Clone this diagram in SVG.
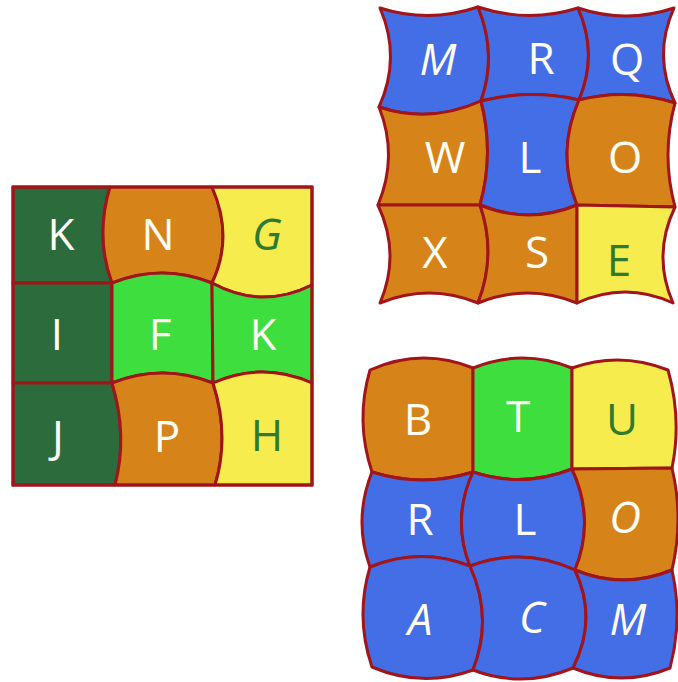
<svg xmlns="http://www.w3.org/2000/svg" width="678" height="682" viewBox="0 0 678 682">
<style>
.t{stroke:#A0141A;stroke-width:3;stroke-linejoin:round}
.dg{fill:#2C6B3C}.or{fill:#D6841A}.ye{fill:#F6EC4E}.gr{fill:#3DDE3D}.bl{fill:#436EE6}
text{font-family:"Open Sans","DejaVu Sans",sans-serif;font-size:44px;text-anchor:middle}
.w{fill:#FFFDF4}.k{fill:#2F7A2F}
</style>
<rect width="678" height="682" fill="#FFFFFF"/>
<g id="grid-left">
<g id="tile-K1"><path class="t dg" d="M13,187 L110,187 Q95,237 112,283 L13,283 Z"/><text class="w" x="61" y="250">K</text></g>
<g id="tile-N"><path class="t or" d="M110,187 L212,187 Q234,237 212,283 Q162,263 112,283 Q95,237 110,187 Z"/><text class="w" x="158" y="250">N</text></g>
<g id="tile-G"><path class="t ye" d="M212,187 L312,187 L312,285 Q262,310 212,283 Q234,237 212,187 Z"/><text class="k" x="267" y="250" font-style="italic">G</text></g>
<g id="tile-I"><path class="t dg" d="M13,283 L112,283 L112,383 L13,383 Z"/><text class="w" x="57" y="350">I</text></g>
<g id="tile-F"><path class="t gr" d="M112,283 Q162,263 212,283 L213,383 Q162,363 112,383 Z"/><text class="w" x="160" y="350">F</text></g>
<g id="tile-K2"><path class="t gr" d="M212,283 Q262,310 312,285 L312,383 Q262,361 213,383 Z"/><text class="w" x="263" y="350">K</text></g>
<g id="tile-J"><path class="t dg" d="M13,383 L112,383 Q128,436 115,485 L13,485 Z"/><text class="w" x="58" y="452">J</text></g>
<g id="tile-P"><path class="t or" d="M112,383 Q162,363 213,383 Q230,436 215,485 L115,485 Q128,436 112,383 Z"/><text class="w" x="167" y="452">P</text></g>
<g id="tile-H"><path class="t ye" d="M213,383 Q262,361 312,383 L312,485 L215,485 Q230,436 213,383 Z"/><text class="k" x="267" y="451">H</text></g>
<rect x="13" y="187" width="299" height="298" fill="none" stroke="#A0141A" stroke-width="3"/>
</g>
<g id="grid-top-right">
<g id="tile-M1"><path class="t bl" d="M380,8 Q429,23.5 478,7 Q497.5,54 481,101 Q430,124 379,107 Q401.5,57.5 380,8 Z"/><text class="w" x="438" y="75" font-style="italic">M</text></g>
<g id="tile-R1"><path class="t bl" d="M478,7 Q528,23.5 578,8 Q598.5,54 579,100 Q530,88.5 481,101 Q497.5,54 478,7 Z"/><text class="w" x="541" y="74">R</text></g>
<g id="tile-Q"><path class="t bl" d="M578,8 Q626,24 674,8 Q652.5,55.5 675,103 Q627,87.5 579,100 Q598.5,54 578,8 Z"/><text class="w" x="627" y="75">Q</text></g>
<g id="tile-W"><path class="t or" d="M379,107 Q430,124 481,101 Q494.5,153 480,205 L378,205 Q398.5,156 379,107 Z"/><text class="w" x="445" y="173">W</text></g>
<g id="tile-L1"><path class="t bl" d="M481,101 Q530,88.5 579,100 Q556,152.5 577,205 Q528.5,225 480,205 Q494.5,153 481,101 Z"/><text class="w" x="530" y="173">L</text></g>
<g id="tile-O1"><path class="t or" d="M579,100 Q627,87.5 675,103 Q661,155 675,207 L577,205 Q556,152.5 579,100 Z"/><text class="w" x="625" y="173">O</text></g>
<g id="tile-X"><path class="t or" d="M378,205 L480,205 Q497,254 478,303 Q429,283 380,303 Q401,254 378,205 Z"/><text class="w" x="435" y="268">X</text></g>
<g id="tile-S"><path class="t or" d="M480,205 Q528.5,225 577,205 L577,303 Q527.5,283 478,303 Q497,254 480,205 Z"/><text class="w" x="537" y="268">S</text></g>
<g id="tile-E"><path class="t ye" d="M577,205 L675,207 Q652,255 673,303 Q625,281 577,303 Z"/><text class="k" x="619" y="276">E</text></g>
</g>
<g id="grid-bottom-right">
<g id="tile-B"><path class="t or" d="M370,370 Q421.5,347 473,368 L473,472 Q422.5,488 372,472 Q355,421 370,370 Z"/><text class="w" x="418" y="435">B</text></g>
<g id="tile-T"><path class="t gr" d="M473,368 Q522.5,348 572,368 L572,469 Q522.5,488.5 473,472 Z"/><text class="w" x="518" y="432">T</text></g>
<g id="tile-U"><path class="t ye" d="M572,368 Q620,351 668,370 Q682,419 672,468 L572,469 Z"/><text class="k" x="622" y="435">U</text></g>
<g id="tile-R2"><path class="t bl" d="M372,472 Q422.5,488 473,472 Q451.5,519 470,566 Q420,546.5 370,567 Q353,519.5 372,472 Z"/><text class="w" x="420" y="535">R</text></g>
<g id="tile-L2"><path class="t bl" d="M473,472 Q522.5,488.5 572,469 Q595.5,519.5 575,570 Q522.5,546 470,566 Q451.5,519 473,472 Z"/><text class="w" x="525" y="535">L</text></g>
<g id="tile-O2"><path class="t or" d="M572,469 L672,468 Q684,519 672,570 Q623.5,590 575,570 Q595.5,519.5 572,469 Z"/><text class="w" x="625" y="533" font-style="italic">O</text></g>
<g id="tile-A"><path class="t bl" d="M370,567 Q420,546.5 470,566 Q493.5,618 473,670 Q422.5,688.5 372,667 Q355,617 370,567 Z"/><text class="w" x="420" y="635" font-style="italic">A</text></g>
<g id="tile-C"><path class="t bl" d="M470,566 Q522.5,546 575,570 Q598,619 573,668 Q523,689 473,670 Q493.5,618 470,566 Z"/><text class="w" x="532" y="633" font-style="italic">C</text></g>
<g id="tile-M2"><path class="t bl" d="M575,570 Q623.5,590 672,570 Q683,619 670,668 Q621.5,688 573,668 Q598,619 575,570 Z"/><text class="w" x="628" y="635" font-style="italic">M</text></g>
</g>
</svg>
